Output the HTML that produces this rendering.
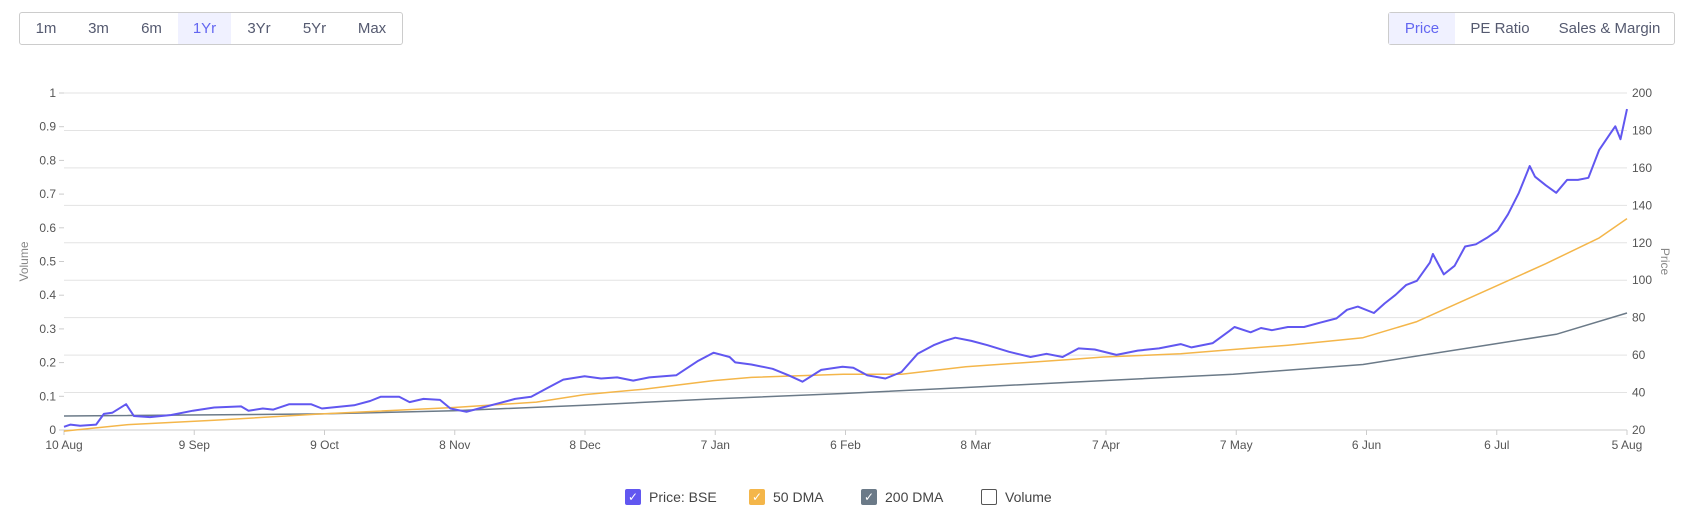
<!DOCTYPE html>
<html><head><meta charset="utf-8">
<style>
body{margin:0;width:1683px;height:522px;background:#fff;font-family:"Liberation Sans",sans-serif;overflow:hidden;position:relative}
.grp{position:absolute;top:12px;height:33px;border:1px solid #ccc;border-radius:3px;display:flex;box-sizing:border-box}
.grp div{display:flex;align-items:center;justify-content:center;font-size:15px;color:#555a70;height:100%}
.grp .on{background:#f0f1ff;color:#6366f1}
.leg{position:absolute;top:489px;display:flex;align-items:center;font-size:14px;color:#444}
.box{width:16px;height:16px;border-radius:2px;margin-right:8px;box-sizing:border-box;display:flex;align-items:center;justify-content:center;color:#fff;font-size:12px}
</style></head><body>
<div class="grp" style="left:19px;width:384px">
<div style="width:52px">1m</div>
<div style="width:53px">3m</div>
<div style="width:53px">6m</div>
<div class="on" style="width:53px">1Yr</div>
<div style="width:56px">3Yr</div>
<div style="width:55px">5Yr</div>
<div style="width:60px">Max</div>
</div>
<div class="grp" style="left:1388px;width:287px">
<div class="on" style="width:66px">Price</div>
<div style="width:90px">PE Ratio</div>
<div style="width:129px">Sales &amp; Margin</div>
</div>
<svg id="c" width="1683" height="522" style="position:absolute;left:0;top:0"></svg>
<div class="leg" style="left:625px"><div class="box" style="background:#6157f0">✓</div>Price: BSE</div>
<div class="leg" style="left:749px"><div class="box" style="background:#f4b64a">✓</div>50 DMA</div>
<div class="leg" style="left:861px"><div class="box" style="background:#6b7a88">✓</div>200 DMA</div>
<div class="leg" style="left:981px"><div class="box" style="border:1.5px solid #555"></div>Volume</div>
<script>
const priceDays=[0,1.5,3.7,7.4,9.2,11.1,14.3,16.1,19.8,24.7,29.7,34.6,40.8,42.5,45.8,48.2,51.9,56.9,59.4,66.8,70.5,73,77.2,79.6,82.8,86.6,89,92.7,96.4,100.2,103.9,107.6,111.3,115,119.9,123.7,127.4,131.1,134.8,141,145.9,149.6,153.3,154.6,158.3,163.2,166.9,170.1,174.4,179.3,181.8,185,189.2,192.9,196.6,200.3,202.8,205.3,209,212.7,217.6,222.6,226.3,230,233.7,237.4,242.4,247.3,252.2,257.2,259.7,264.6,268.3,269.6,273.3,275.7,278.2,281.9,285.6,289.3,293.1,295.5,298,301.7,304.2,306.7,309.1,311.6,314.6,315.3,317.8,320.3,322.7,325.2,327.7,330.2,332.6,335.1,337.6,338.8,341.3,343.7,346.2,348.7,351.1,353.6,356.1,357.3,358.5,360];
const priceVals=[21.7,22.9,22.3,22.9,28.6,29.2,33.8,27.5,26.9,28,30.3,32,32.6,30.3,31.5,30.9,33.8,33.8,31.5,33.2,35.5,37.8,37.8,34.9,36.6,36.1,31.5,29.7,32,34.3,36.6,37.8,42.4,46.9,48.7,47.5,48.1,46.4,48.1,49.2,56.7,61.3,59,56.1,55,52.7,49.2,45.8,52.1,53.8,53.2,49.2,47.5,51,60.7,65.3,67.6,69.3,67.6,65.3,61.8,59,60.7,59,63.6,63,60.1,62.4,63.6,65.9,64.1,66.4,72.7,75,72.2,74.5,73.3,75,75,77.3,79.6,84.2,85.9,82.5,87.6,92.2,97.4,99.7,109.4,114,103.1,107.7,118,119.2,122.6,126.6,135.2,146.7,161,155.3,150.7,146.7,153.6,153.6,154.7,169.6,178.2,182.2,175.3,191.4];
const dma50Days=[0,14.8,34.6,59.4,89.8,108.8,119.9,133.5,149.6,158.3,179.5,192.9,207.7,232.5,239.4,257.2,269.3,281.9,299.2,311.6,329.2,341.3,353.6,360];
const dma50Vals=[19.4,22.9,25.2,28.6,32,34.9,38.9,41.8,46.4,48.1,49.8,49.8,53.8,57.8,59,60.7,63,65.3,69.3,77.9,96.2,108.8,122.6,132.9];
const dma200Days=[0,59.4,89.8,119.9,149.6,179.5,209.5,239.4,269.3,299.2,329.2,343.7,360];
const dma200Vals=[27.5,28.6,30.3,33.2,36.6,39.5,42.9,46.4,49.8,55,65.9,71.1,82.5];
const xTickDays=[0,30,60,90,120,150,180,210,240,270,300,330,360];
const xTickLabels=["10 Aug","9 Sep","9 Oct","8 Nov","8 Dec","7 Jan","6 Feb","8 Mar","7 Apr","7 May","6 Jun","6 Jul","5 Aug"];
const priceTicks=[20,40,60,80,100,120,140,160,180,200];
const volTicks=[0,0.1,0.2,0.3,0.4,0.5,0.6,0.7,0.8,0.9,1];
const L=64,R=1627,T=93,B=430;
const xs=d=>L+d/360*(R-L), ys=p=>B-(p-20)/180*(B-T), yv=v=>B-v*(B-T);
const svg=document.getElementById('c'),NS='http://www.w3.org/2000/svg';
function el(t,a,txt){const e=document.createElementNS(NS,t);for(const k in a)e.setAttribute(k,a[k]);if(txt!==undefined)e.textContent=txt;svg.appendChild(e);return e;}
priceTicks.forEach((p,i)=>{const y=ys(p);
const g=el('line',{x1:L,x2:R,y1:y,y2:y,stroke:i?'#e3e3e3':'#ccc'});


const t=el('text',{x:R+5,y:y+4,'font-size':12,fill:'#555'},p);

});
volTicks.forEach(v=>{const y=yv(v);
el('line',{x1:L-5,x2:L,y1:y,y2:y,stroke:'#ccc'});
const t=el('text',{x:L-8,y:y+4,'font-size':12,fill:'#555','text-anchor':'end'},String(v));

});
xTickDays.forEach((d,i)=>{const x=xs(d);
el('line',{x1:x,x2:x,y1:B,y2:B+5,stroke:'#ccc'});
const t=el('text',{x:x,y:B+19,'font-size':12,fill:'#555','text-anchor':'middle'},xTickLabels[i]);

});
const ya=el('text',{transform:`translate(28,${(T+B)/2}) rotate(-90)`,'font-size':12,fill:'#888','text-anchor':'middle'},'Volume');


const yb=el('text',{transform:`translate(1661,${(T+B)/2}) rotate(90)`,'font-size':12,fill:'#888','text-anchor':'middle'},'Price');


function line(ds,vs,c,w,n){const d=ds.map((x,i)=>(i?'L':'M')+xs(x).toFixed(1)+','+ys(vs[i]).toFixed(1)).join('');
const p=el('path',{d:d,fill:'none',stroke:c,'stroke-width':w,'stroke-linejoin':'round'});

}
line(dma200Days,dma200Vals,'#6b7a88',1.5,'dma200-line');
line(dma50Days,dma50Vals,'#f4b64a',1.5,'dma50-line');
line(priceDays,priceVals,'#6157f0',2,'price-line');
</script>
</body></html>
